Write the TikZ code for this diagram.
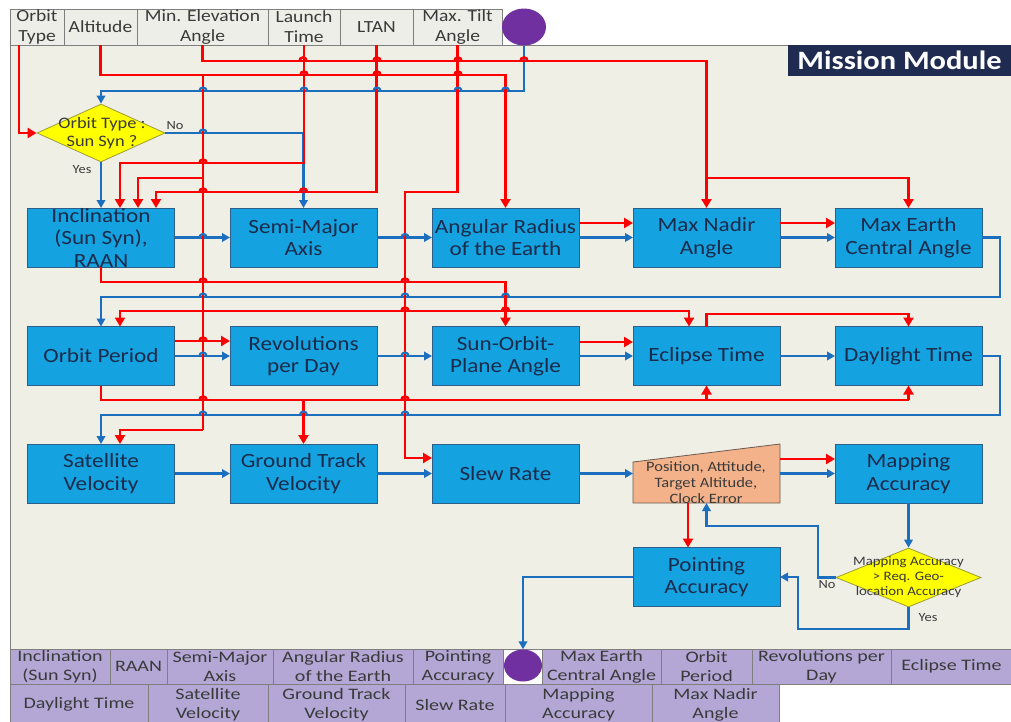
\documentclass[tikz,border=0pt]{standalone}
\usepackage{fontspec}
\setmainfont{Carlito}[FakeStretch=1.15]
\newfontfamily\barfont{Carlito}[FakeStretch=1.25]
\usetikzlibrary{arrows.meta,calc,shapes.geometric}

\definecolor{panelbg}{HTML}{EFEFE6}
\definecolor{topfill}{HTML}{EEEEE8}
\definecolor{cellline}{HTML}{7F7F7F}
\definecolor{txtgray}{HTML}{3A3A3A}
\definecolor{boxfill}{HTML}{14A3E0}
\definecolor{boxline}{HTML}{2F5D8A}
\definecolor{boxtxt}{HTML}{1B2B4B}
\definecolor{wirered}{HTML}{FF0000}
\definecolor{wireblue}{HTML}{1C6EBF}
\definecolor{decfill}{HTML}{FFFF00}
\definecolor{decline}{HTML}{9C9C3A}
\definecolor{posfill}{HTML}{F4B28A}
\definecolor{posline}{HTML}{6B5A50}
\definecolor{botfill}{HTML}{B4A7D6}
\definecolor{dotpurple}{HTML}{7030A0}
\definecolor{titlebg}{HTML}{1F2B50}

% a fixed-size cell plus its centred label
\newcommand\cellnode[5]{\node[#1,minimum width=#4] (#2) at (#3) {};\node[#1 txt] (#2t) at (#2) {#5};}
% small line hops where a horizontal wire passes over a vertical one
\newcommand\hopR[2]{\draw[rw] (#1-3.5,#2) arc[start angle=180,end angle=0,radius=3.5pt];}
\newcommand\hopB[2]{\draw[bw] (#1-3.5,#2) arc[start angle=180,end angle=0,radius=3.5pt];}

\begin{document}
\begin{tikzpicture}[x=1pt,y=-1pt,line join=miter,
  topcell/.style={draw=cellline,fill=topfill,line width=0.8pt,minimum height=36,inner sep=0,outer sep=0},
  topcell txt/.style={text=txtgray,align=center,inner sep=0,font=\fontsize{17}{20}\selectfont},
  mbox/.style={draw=boxline,fill=boxfill,line width=0.9pt,minimum height=59,inner sep=0,outer sep=0},
  mbox txt/.style={text=boxtxt,align=center,inner sep=0,font=\fontsize{20.2}{22.5}\selectfont},
  botA/.style={draw=cellline,fill=botfill,line width=0.8pt,minimum height=35,inner sep=0,outer sep=0},
  botA txt/.style={text=txtgray,align=center,inner sep=0,font=\barfont\fontsize{16}{19}\selectfont},
  botB/.style={draw=cellline,fill=botfill,line width=0.8pt,minimum height=41,inner sep=0,outer sep=0},
  botB txt/.style={text=txtgray,align=center,inner sep=0,font=\barfont\fontsize{16}{19}\selectfont},
  rw/.style={draw=wirered,line width=2.6pt},
  bw/.style={draw=wireblue,line width=2.2pt},
  ra/.style={rw,-{Triangle[length=9pt,width=10pt]}},
  ba/.style={bw,-{Triangle[length=8pt,width=8.5pt]}},
  lbl/.style={text=txtgray,inner sep=0,font=\fontsize{12.5}{14}\selectfont},
  dtxt/.style={text=txtgray,align=center,inner sep=0},
]
\useasboundingbox (0,0) rectangle (1011,721);

% panel
\fill[panelbg] (10,45) rectangle (1011,649);
\draw[cellline,line width=0.8pt] (1011,45) -- (10,45) -- (10,649);

% input bar
\cellnode{topcell}{ot}{37,27}{54}{Orbit\\Type}
\cellnode{topcell}{alt}{100.5,27}{73}{Altitude}
\cellnode{topcell}{minel}{202.5,27}{131}{Min. Elevation\\Angle}
\cellnode{topcell}{launch}{304,27}{72}{Launch\\Time}
\cellnode{topcell}{ltan}{376.5,27}{73}{LTAN}
\cellnode{topcell}{tilt}{457.5,27}{89}{Max. Tilt\\Angle}
\node[ellipse,fill=dotpurple,minimum width=44,minimum height=37,inner sep=0] (topc) at (524,27) {};

% title
\node[fill=titlebg,minimum width=223,minimum height=31,inner sep=0,text=white,
      font=\bfseries\fontsize{26.5}{30}\selectfont] (title) at (899.5,60.5) {Mission Module};

% decision
\node[diamond,draw=decline,fill=decfill,line width=0.8pt,minimum width=128,minimum height=58,inner sep=0] (d1) at (101,133) {};
\node[dtxt,font=\fontsize{16}{18}\selectfont] (d1t) at (102,133) {Orbit Type :\\Sun Syn ?};

% blocks
\cellnode{mbox}{inc}{101,237.5}{147}{Inclination\\(Sun Syn),\\RAAN}
\cellnode{mbox}{sma}{303.5,237.5}{147}{Semi-Major\\Axis}
\cellnode{mbox}{ang}{505.5,237.5}{147}{Angular Radius\\of the Earth}
\cellnode{mbox}{nad}{706.5,237.5}{147}{Max Nadir\\Angle}
\cellnode{mbox}{mec}{908.5,237.5}{147}{Max Earth\\Central Angle}
\cellnode{mbox}{per}{101,356}{147}{Orbit Period}
\cellnode{mbox}{rev}{303.5,356}{147}{Revolutions\\per Day}
\cellnode{mbox}{sop}{505.5,356}{147}{Sun-Orbit-\\Plane Angle}
\cellnode{mbox}{ecl}{706.5,356}{147}{Eclipse Time}
\cellnode{mbox}{day}{908.5,356}{147}{Daylight Time}
\cellnode{mbox}{sat}{101,473.5}{147}{Satellite\\Velocity}
\cellnode{mbox}{gtv}{303.5,473.5}{147}{Ground Track\\Velocity}
\cellnode{mbox}{slew}{505.5,473.5}{147}{Slew Rate}
\cellnode{mbox}{map}{908.5,473.5}{147}{Mapping\\Accuracy}
\cellnode{mbox}{pnt}{706.5,577}{147}{Pointing\\Accuracy}

% error sources block
\node[minimum width=147,minimum height=59,inner sep=0,outer sep=0] (pos) at (706.5,473.5) {};
\draw[draw=posline,fill=posfill,line width=0.8pt] (pos.south west) -- (pos.south east) -- (pos.north east) -- ($(pos.north west)+(0,18)$) -- cycle;
\node[dtxt,font=\fontsize{14.3}{16}\selectfont] (post) at (706,483) {Position, Attitude,\\Target Altitude,\\Clock Error};

% accuracy check
\node[diamond,draw=decline,fill=decfill,line width=0.8pt,minimum width=145,minimum height=59,inner sep=0] (d2) at (908.5,577.5) {};
\node[dtxt,font=\fontsize{12.9}{15}\selectfont] (d2t) at (908.5,577.5) {Mapping Accuracy\\> Req. Geo-\\location Accuracy};

% output bar
\cellnode{botA}{bInc}{60,666.5}{100}{Inclination\\(Sun Syn)}
\cellnode{botA}{bRaan}{138.5,666.5}{57}{RAAN}
\cellnode{botA}{bSma}{220,666.5}{106}{Semi-Major\\Axis}
\cellnode{botA}{bAng}{343,666.5}{140}{Angular Radius\\of the Earth}
\cellnode{botA}{bPnt}{458,666.5}{90}{Pointing\\Accuracy}
\node[draw=cellline,fill=white,line width=0.8pt,minimum width=39,minimum height=35,inner sep=0] (bWhite) at (522.5,666.5) {};
\node[ellipse,fill=dotpurple,minimum width=38,minimum height=32,inner sep=0] (botc) at (523,665.5) {};
\cellnode{botA}{bMec}{601.5,666.5}{119}{Max Earth\\Central Angle}
\cellnode{botA}{bPer}{706.5,666.5}{91}{Orbit\\Period}
\cellnode{botA}{bRev}{821.5,666.5}{139}{Revolutions per\\Day}
\cellnode{botA}{bEcl}{951.5,666.5}{121}{Eclipse Time}
\cellnode{botB}{bDay}{79,704.5}{138}{Daylight Time}
\cellnode{botB}{bSat}{208,704.5}{120}{Satellite\\Velocity}
\cellnode{botB}{bGtv}{336.5,704.5}{137}{Ground Track\\Velocity}
\cellnode{botB}{bSlew}{455,704.5}{100}{Slew Rate}
\cellnode{botB}{bMap}{578.5,704.5}{147}{Mapping\\Accuracy}
\cellnode{botB}{bNad}{715.5,704.5}{127}{Max Nadir\\Angle}

% blue flow
\draw[ba] (topc.south) |- (d1.north |- 0,91) -- (d1.north);
\draw[ba] (d1.south) -- (inc.north);
\draw[ba] (d1.east) -| (sma.north);
\draw[ba] (inc.east) -- (sma.west);
\draw[ba] (sma.east) -- (ang.west);
\draw[ba] (ang.east) -- (nad.west);
\draw[ba] (nad.east) -- (mec.west);
\draw[ba] (mec.east) -- (1000,237.5) |- (per.north |- 0,297) -- (per.north);
\draw[ba] (per.east) -- (rev.west);
\draw[ba] (rev.east) -- (sop.west);
\draw[ba] (sop.east) -- (ecl.west);
\draw[ba] (ecl.east) -- (day.west);
\draw[ba] (day.east) -- (1000,356) |- (sat.north |- 0,415) -- (sat.north);
\draw[ba] (sat.east) -- (gtv.west);
\draw[ba] (gtv.east) -- (slew.west);
\draw[ba] (slew.east) -- (pos.west);
\draw[ba] (pos.east) -- (map.west);
\draw[ba] (map.south) -- (d2.north);
\draw[ba] (d2.west) -- (818,577.5) |- (pos.south |- 0,526) -- (pos.south);
\draw[ba] (d2.south) |- (798,629) |- (pnt.east);
\draw[ba] (pnt.west) -| (botc.north);

% red flow
\draw[ra] (ot.south -| 19,0) |- (d1.west);
\draw[ra] (alt.south) |- (ang.north |- 0,75) -- (ang.north);
\draw[rw] (203,75) -- (203,430);
\draw[ra] (203,430) -| (sat.north -| 120,0);
\draw[ra] (203,178) -| (inc.north -| 138,0);
\draw[ra] (minel.south) |- (nad.north |- 0,61) -- (nad.north);
\draw[ra] (nad.north |- 0,178) -| (mec.north);
\draw[ra] (launch.south) |- (120,163) -- (inc.north -| 120,0);
\draw[ra] (ltan.south) |- (156,192) -- (inc.north -| 156,0);
\draw[ra] (tilt.south) |- (405,192) |- (slew.west |- 0,458);
\draw[ra] (inc.south) |- (sop.north |- 0,282) -- (sop.north);
\draw[ra] (203,311) -| (per.north -| 120,0);
\draw[ra] (203,311) -| (ecl.north -| 689,0);
\draw[ra] ([yshift=14.5pt]ang.east) -- ([yshift=14.5pt]nad.west);
\draw[ra] ([yshift=14.5pt]nad.east) -- ([yshift=14.5pt]mec.west);
\draw[ra] ([yshift=15pt]per.east) -- ([yshift=15pt]rev.west);
\draw[ra] ([yshift=14pt]sop.east) -- ([yshift=14pt]ecl.west);
\draw[ra] (ecl.north) |- (day.north |- 0,314) -- (day.north);
\draw[rw] (per.south) |- (day.south |- 0,400);
\draw[ra] (day.south |- 0,400) -- (day.south);
\draw[ra] (ecl.south |- 0,400) -- (ecl.south);
\draw[ra] (gtv.north |- 0,400) -- (gtv.north);
\draw[ra] (pos.south -| 688,0) -- (pnt.north -| 688,0);
\draw[ra] ([yshift=14.5pt]pos.east) -- ([yshift=14.5pt]map.west);

% hops
\hopR{303}{61}\hopR{377}{61}\hopR{458}{61}\hopR{524}{61}
\hopR{304}{75}\hopR{377}{75}\hopR{458}{75}
\hopR{203}{163}
\hopR{203}{192}\hopR{303.5}{192}
\hopR{203}{282}\hopR{405}{282}
\hopR{405}{311}\hopR{505.5}{311}
\hopR{203}{341}
\hopR{203}{400}\hopR{405}{400}
\hopB{203}{91}\hopB{304}{91}\hopB{377}{91}\hopB{458}{91}\hopB{505.5}{91}
\hopB{203}{133}
\hopB{203}{237.5}\hopB{405}{237.5}
\hopB{203}{297}\hopB{405}{297}\hopB{505.5}{297}
\hopB{203}{356}\hopB{405}{356}
\hopB{203}{415}\hopB{303.5}{415}\hopB{405}{415}

% branch labels
\node[lbl] (no1) at (175,126) {No};
\node[lbl] (yes1) at (82,170) {Yes};
\node[lbl] (no2) at (827,585) {No};
\node[lbl] (yes2) at (928,618) {Yes};
\end{tikzpicture}
\end{document}
